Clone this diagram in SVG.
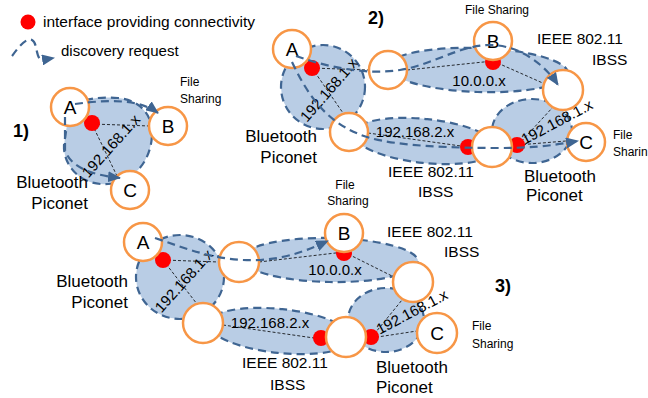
<svg xmlns="http://www.w3.org/2000/svg" width="648" height="398" viewBox="0 0 648 398">
<defs>
<style>
.blob{fill:#b9cde5;stroke:#3f6592;stroke-width:2.2;stroke-dasharray:8,5}
.node{fill:#fff;stroke:#f79646;stroke-width:2.5}
.dot{fill:#ff0000}
.link{fill:none;stroke:#000;stroke-width:0.8;stroke-dasharray:3,2}
.req{fill:none;stroke:#3f6592;stroke-width:2.2;stroke-dasharray:8,5;marker-end:url(#ah)}
text{font-family:"Liberation Sans",Arial,sans-serif;fill:#000}
.nl{font-size:19px;text-anchor:middle}
.ip{font-size:15px;text-anchor:middle}
.lab{font-size:17px}
.ieee{font-size:15.5px}
.end{text-anchor:end}
.small{font-size:12px}
.num{font-size:18px;font-weight:bold}
.leg{font-size:15px}
</style>
<marker id="ah" markerUnits="userSpaceOnUse" markerWidth="13" markerHeight="11" refX="12" refY="5.5" orient="auto"><path d="M0,0 L13,5.5 L0,11 z" fill="#3f6592"/></marker>
</defs>
<rect width="648" height="398" fill="#fff"/>

<g id="legend">
<circle class="dot" cx="28" cy="22" r="7.5"/>
<text class="leg" x="43" y="27" style="font-size:15.5px">interface providing connectivity</text>
<path class="req" d="M12,56 C18,48 26,37 32,40 C38,43 35,58 42,60 L54,58"/>
<text class="leg" x="61" y="56">discovery request</text>
</g>

<g id="networks">
<path id="p1-bt" class="blob" d="M68,118 C70,100 95,96 118,98 C140,100 153,115 152,135 C151,160 135,182 108,184 C80,186 63,165 64,145 Z"/>
<ellipse id="p2-bt1" class="blob" cx="323" cy="87" rx="42" ry="42"/>
<ellipse id="p2-ibss1" class="blob" cx="478" cy="70" rx="90" ry="22" transform="rotate(2 478 70)"/>
<ellipse id="p2-ibss2" class="blob" cx="425" cy="141" rx="72" ry="22" transform="rotate(6 425 141)"/>
<ellipse id="p2-bt2" class="blob" cx="532" cy="131" rx="40" ry="32"/>
<ellipse id="p3-bt1" class="blob" cx="180" cy="277" rx="44" ry="42"/>
<ellipse id="p3-ibss1" class="blob" cx="330" cy="260" rx="88" ry="22" transform="rotate(1 330 260)"/>
<ellipse id="p3-ibss2" class="blob" cx="280" cy="331" rx="72" ry="22" transform="rotate(6 280 331)"/>
<ellipse id="p3-bt2" class="blob" cx="386" cy="320" rx="38" ry="32"/>
</g>

<g id="links">
<path class="link" d="M92,124 L150,126 M92,124 L117,176"/>
<path class="link" d="M312,68 L369,70 M312,68 L343,113 M407,70 L493,61 M493,61 L545,84 M368,133 L468,147 M518,145 L553,107 M518,145 L566,141"/>
<path class="link" d="M163,260 L219,262 M163,260 L197,304 M259,262 L344,252 M344,252 L394,277 M223,325 L321,339 M371,338 L402,300 M371,338 L417,331"/>
</g>

<g id="ip-labels">
<text class="ip" transform="translate(111,146) rotate(-48)" y="5">192.168.1.x</text>
<text class="ip" transform="translate(329,90) rotate(-49)" y="5">192.168.1.x</text>
<text class="ip" x="479" y="86">10.0.0.x</text>
<text class="ip" x="415" y="137">192.168.2.x</text>
<text class="ip" transform="translate(557,122) rotate(-28)" y="5">192.168.1.x</text>
<text class="ip" transform="translate(184,281) rotate(-48)" y="5">192.168.1.x</text>
<text class="ip" x="335" y="275">10.0.0.x</text>
<text class="ip" x="270" y="328">192.168.2.x</text>
<text class="ip" transform="translate(412,312) rotate(-28)" y="5">192.168.1.x</text>
</g>

<g id="interfaces">
<circle class="dot" cx="92" cy="123" r="8"/>
<circle class="dot" cx="312" cy="68" r="8"/>
<circle class="dot" cx="493" cy="62" r="8"/>
<circle class="dot" cx="468" cy="147" r="8"/>
<circle class="dot" cx="517" cy="145" r="8"/>
<circle class="dot" cx="163" cy="260" r="8"/>
<circle class="dot" cx="344" cy="253" r="8"/>
<circle class="dot" cx="321" cy="338" r="8"/>
<circle class="dot" cx="371" cy="337" r="8"/>
</g>

<g id="p1-A"><circle class="node" cx="70" cy="107" r="19"/><text class="nl" x="70" y="114">A</text></g>
<g id="p1-B"><circle class="node" cx="168" cy="126" r="19"/><text class="nl" x="168" y="133">B</text></g>
<g id="p1-C"><circle class="node" cx="130" cy="190" r="19"/><text class="nl" x="130" y="197">C</text></g>

<g id="p2-A"><circle class="node" cx="292" cy="49" r="19"/><text class="nl" x="292" y="56">A</text></g>
<g id="p2-n1"><circle class="node" cx="388" cy="70" r="19"/></g>
<g id="p2-n2"><circle class="node" cx="349" cy="132" r="19"/></g>
<g id="p2-B"><circle class="node" cx="493" cy="41" r="19"/><text class="nl" x="493" y="48">B</text></g>
<g id="p2-n3"><circle class="node" cx="563" cy="90" r="20"/></g>
<g id="p2-n4"><circle class="node" cx="492" cy="147" r="20"/></g>
<g id="p2-C"><circle class="node" cx="586" cy="142" r="19"/><text class="nl" x="586" y="149">C</text></g>

<g id="p3-A"><circle class="node" cx="143" cy="242" r="19"/><text class="nl" x="143" y="249">A</text></g>
<g id="p3-n1"><circle class="node" cx="239" cy="262" r="20"/></g>
<g id="p3-n2"><circle class="node" cx="203" cy="323" r="20"/></g>
<g id="p3-B"><circle class="node" cx="344" cy="233" r="19"/><text class="nl" x="344" y="240">B</text></g>
<g id="p3-n3"><circle class="node" cx="413" cy="282" r="20"/></g>
<g id="p3-n4"><circle class="node" cx="346" cy="337" r="20"/></g>
<g id="p3-C"><circle class="node" cx="437" cy="333" r="20"/><text class="nl" x="437" y="340">C</text></g>

<g id="requests">
<path class="req" d="M75,104 C105,100 138,98 158,113"/>
<path class="req" d="M65,117 L65,150 Q72,173 120,178"/>
<path class="req" d="M296,56 C330,68 368,75 400,70 C432,65 460,45 490,45 C520,45 545,65 558,85"/>
<path class="req" d="M292,62 C310,100 330,126 370,138 C400,146 450,148 500,148 C540,148 560,144 578,141"/>
<path class="req" d="M155,238 C190,250 220,262 260,260 C290,258 310,249 328,241"/>
</g>

<g id="labels">
<text class="num" x="13" y="137">1)</text>
<text class="small" x="180" y="86">File</text>
<text class="small" x="180" y="103">Sharing</text>
<text class="lab end" x="88" y="188">Bluetooth</text>
<text class="lab end" x="88" y="209">Piconet</text>

<text class="num" x="368" y="24">2)</text>
<text class="small" x="497" y="14" text-anchor="middle">File Sharing</text>
<text class="ieee" x="537" y="44">IEEE 802.11</text>
<text class="ieee" x="592" y="65">IBSS</text>
<text class="lab end" x="317" y="142">Bluetooth</text>
<text class="lab end" x="317" y="163">Piconet</text>
<text class="ieee" x="388" y="177">IEEE 802.11</text>
<text class="ieee" x="418" y="197">IBSS</text>
<text class="lab" x="524" y="182">Bluetooth</text>
<text class="lab" x="526" y="201">Piconet</text>
<text class="small" x="613" y="139">File</text>
<text class="small" x="613" y="156">Sharin</text>

<text class="small" x="345" y="189" text-anchor="middle">File</text>
<text class="small" x="348" y="205" text-anchor="middle">Sharing</text>
<text class="ieee" x="387" y="237">IEEE 802.11</text>
<text class="ieee" x="444" y="257">IBSS</text>
<text class="num" x="495" y="292">3)</text>
<text class="lab end" x="128" y="287">Bluetooth</text>
<text class="lab end" x="128" y="308">Piconet</text>
<text class="ieee" x="242" y="368">IEEE 802.11</text>
<text class="ieee" x="270" y="390">IBSS</text>
<text class="lab" x="376" y="373">Bluetooth</text>
<text class="lab" x="376" y="393">Piconet</text>
<text class="small" x="472" y="330">File</text>
<text class="small" x="472" y="348">Sharing</text>
</g>
</svg>
